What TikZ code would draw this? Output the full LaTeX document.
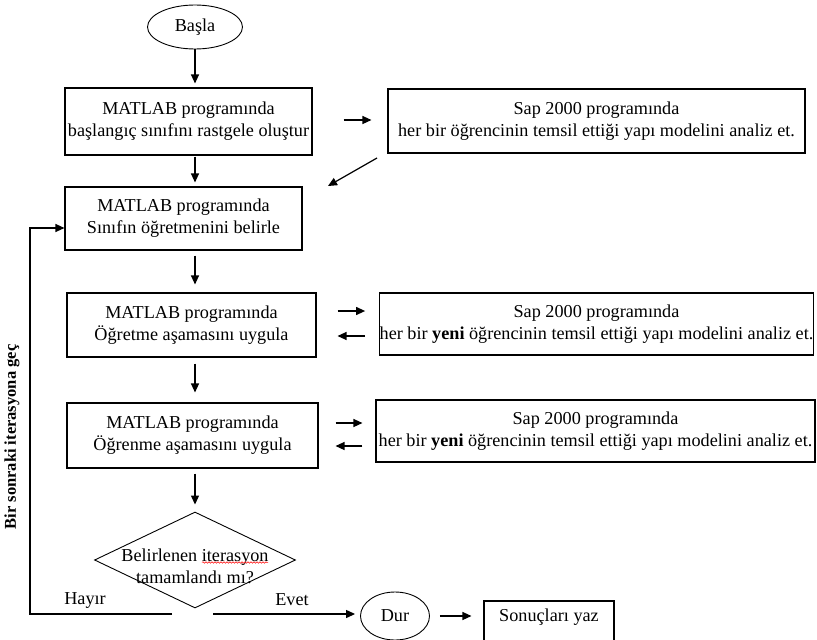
\documentclass[tikz,border=0pt]{standalone}
\usepackage{fontspec}
\setmainfont{Liberation Serif}
\usetikzlibrary{shapes.geometric,arrows.meta,calc,decorations.pathmorphing}
\begin{document}
\begin{tikzpicture}[x=1pt,y=-1pt,
  every node/.style={font=\fontsize{18.2}{22}\selectfont},
  box/.style={draw, line width=1.1pt, rectangle, inner sep=0pt, align=center},
  oval/.style={draw, line width=0.9pt, ellipse, inner sep=0pt},
  arr/.style={line width=1.2pt, -{Triangle[length=9pt,width=8pt]}},
  ln/.style={line width=1.2pt}]
\useasboundingbox (0,0) rectangle (817,640);
\coordinate (axis) at (195,0);
% nodes
\node[oval, minimum width=95, minimum height=44] (start) at (195,27) {Başla};
\node[box, minimum width=247, minimum height=67] (box1) at (188.5,121.5) {MATLAB programında\\başlangıç sınıfını rastgele oluştur};
\node[box, minimum width=417, minimum height=64] (sap1) at (596.5,121) {Sap 2000 programında\\ her bir öğrencinin temsil ettiği yapı modelini analiz et.};
\node[box, minimum width=237, minimum height=63] (box2) at (183.5,218.5) {MATLAB programında\\Sınıfın öğretmenini belirle};
\node[box, minimum width=249, minimum height=64] (box3) at (191.5,325) {MATLAB programında\\Öğretme aşamasını uygula};
\node[box, minimum width=433, minimum height=62] (sap2) at (596.5,324) {Sap 2000 programında\\her bir \textbf{yeni} öğrencinin temsil ettiği yapı modelini analiz et.};
\node[box, minimum width=251, minimum height=65] (box4) at (192.5,435.5) {MATLAB programında\\Öğrenme aşamasını uygula};
\node[box, minimum width=439, minimum height=62] (sap3) at (595.5,431) {Sap 2000 programında\\ her bir \textbf{yeni} öğrencinin temsil ettiği yapı modelini analiz et.};
\node[draw, line width=0.9pt, diamond, minimum width=201, minimum height=96, inner sep=0pt] (dec) at (195,560) {};
\node[align=center, inner sep=0pt] (dectxt) at (195,566) {Belirlenen iterasyon\\tamamlandı mı?};
\draw[red, line width=0.5pt, decorate, decoration={snake, amplitude=0.8pt, segment length=3pt}] (202,562.5) -- (268,562.5);
\node[oval, minimum width=69, minimum height=48] (dur) at (395,616) {Dur};
\node[box, minimum width=130, minimum height=52] (son) at (549,627) {};
\node[inner sep=0pt] (sontxt) at (549,617) {Sonuçları yaz};
\node (hayir) at (85,600) {Hayır};
\node (evet) at (292,600) {Evet};
\node[rotate=90, font=\fontsize{16.5}{20}\selectfont\bfseries] (loop) at (12,437) {Bir sonraki iterasyona geç};
% coordinates
\coordinate (d1) at (377,158);
\coordinate (d2) at (328,186);
\coordinate (h1) at (172,614);
\coordinate (lp) at (30,614);
\coordinate (e1) at (213,614);
% connectors
\draw[arr, shorten >=4pt] (start.south -| axis) -- (box1.north -| axis);
\draw[arr, shorten <=1pt, shorten >=4pt] (box1.south -| axis) -- (box2.north -| axis);
\draw[arr, shorten <=5pt, shorten >=8pt] (box2.south -| axis) -- (box3.north -| axis);
\draw[arr, shorten <=6pt, shorten >=10pt] (box3.south -| axis) -- (box4.north -| axis);
\draw[arr, shorten <=5pt, shorten >=7pt] (box4.south -| axis) -- (dec.north -| axis);
\draw[arr, shorten <=31pt, shorten >=16pt] ($(box1.east)+(0,-1.5)$) -- ($(sap1.west)+(0,-1)$);
\draw[arr] (d1) -- (d2);
\draw[arr, shorten <=21pt, shorten >=14pt] ($(box3.east)+(0,-14)$) -- ($(sap2.west)+(0,-13)$);
\draw[arr, shorten <=14pt, shorten >=21pt] ($(sap2.west)+(0,12)$) -- ($(box3.east)+(0,11)$);
\draw[arr, shorten <=17pt, shorten >=13pt] ($(box4.east)+(0,-12.5)$) -- ($(sap3.west)+(0,-8)$);
\draw[arr, shorten <=13pt, shorten >=17pt] ($(sap3.west)+(0,15)$) -- ($(box4.east)+(0,10.5)$);
\draw[arr] (h1) -- (lp) |- ($(box2.west)+(0,9.5)$);
\draw[arr, shorten >=5pt] (e1) -- (e1 -| dur.west);
\draw[arr, shorten <=10pt, shorten >=12pt] (dur.east) -- (dur.east -| son.west);
\end{tikzpicture}
\end{document}
